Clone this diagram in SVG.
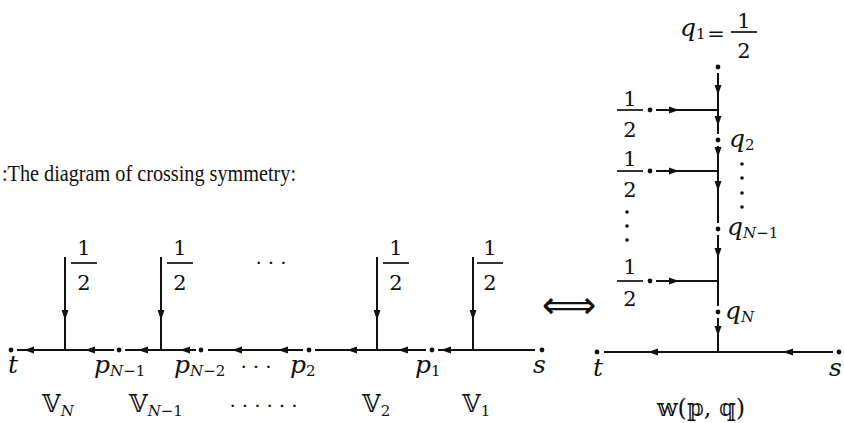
<svg xmlns="http://www.w3.org/2000/svg" xmlns:xlink="http://www.w3.org/1999/xlink" width="844" height="423" viewBox="0 0 844 423">
<style>
.ln{stroke:#111;stroke-width:2;fill:none}
.fb{stroke:#111;stroke-width:1.7}
.dot{fill:#111}
.num{font-family:"DejaVu Serif","Liberation Serif",serif;font-size:21px;fill:#111;text-anchor:middle}
.it{font-family:"DejaVu Serif","Liberation Serif",serif;font-style:italic;font-size:25px;fill:#111}
.sub{font-size:15px}
.up{font-style:normal}
.ds{font-family:"DejaVu Serif","DejaVu Sans",serif;font-size:24px;fill:#111}
.ttl{font-family:"Liberation Serif",serif;font-size:24px;fill:#111}
.ell{font-family:"Liberation Serif",serif;font-size:22px;fill:#111}
</style>
<defs>
<polygon id="ah" points="0,0 -10,-3.5 -10,3.5" fill="#111"/>
</defs>
<rect width="844" height="423" fill="#fff"/>
<text class="ttl" x="2" y="181" textLength="294" lengthAdjust="spacingAndGlyphs">:The diagram of crossing symmetry:</text>

<g id="connectors">
<path class="ln" d="M17,350 H114 M125,350 H196 M208,350 H303 M315,350 H426 M438,350 H535"/>
<path class="ln" d="M65,257 V350 M161,257 V350 M377,257 V350 M473,257 V350"/>
<use xlink:href="#ah" transform="translate(24,350) rotate(180)"/>
<use xlink:href="#ah" transform="translate(85,350) rotate(180)"/>
<use xlink:href="#ah" transform="translate(138,350) rotate(180)"/>
<use xlink:href="#ah" transform="translate(180,350) rotate(180)"/>
<use xlink:href="#ah" transform="translate(232,350) rotate(180)"/>
<use xlink:href="#ah" transform="translate(278,350) rotate(180)"/>
<use xlink:href="#ah" transform="translate(347,350) rotate(180)"/>
<use xlink:href="#ah" transform="translate(398,350) rotate(180)"/>
<use xlink:href="#ah" transform="translate(441,350) rotate(180)"/>
<use xlink:href="#ah" transform="translate(65,320) rotate(90)"/>
<use xlink:href="#ah" transform="translate(161,320) rotate(90)"/>
<use xlink:href="#ah" transform="translate(377,320) rotate(90)"/>
<use xlink:href="#ah" transform="translate(473,320) rotate(90)"/>

<path class="ln" d="M604,352 H833"/>
<use xlink:href="#ah" transform="translate(648,352) rotate(180)"/>
<use xlink:href="#ah" transform="translate(783,352) rotate(180)"/>
<path class="ln" d="M718,73 V134 M718,146 V223 M718,235 V306 M718,318 V352"/>
<use xlink:href="#ah" transform="translate(718,95) rotate(90)"/>
<use xlink:href="#ah" transform="translate(718,126) rotate(90)"/>
<use xlink:href="#ah" transform="translate(718,157) rotate(90)"/>
<use xlink:href="#ah" transform="translate(718,191) rotate(90)"/>
<use xlink:href="#ah" transform="translate(718,258) rotate(90)"/>
<use xlink:href="#ah" transform="translate(718,336) rotate(90)"/>
<path class="ln" d="M656,110 H718 M656,171 H718 M656,281 H718"/>
<use xlink:href="#ah" transform="translate(679,110)"/>
<use xlink:href="#ah" transform="translate(679,171)"/>
<use xlink:href="#ah" transform="translate(679,281)"/>
</g>

<g id="t-left"><circle class="dot" cx="11" cy="350" r="2.4"/><text class="it" x="8" y="373">t</text></g>
<g id="pN1"><circle class="dot" cx="119" cy="350" r="2.4"/><text class="it" x="94" y="373">p<tspan class="sub" dy="3">N<tspan class="up">−1</tspan></tspan></text></g>
<g id="pN2"><circle class="dot" cx="201" cy="350" r="2.4"/><text class="it" x="174" y="373">p<tspan class="sub" dy="3">N<tspan class="up">−2</tspan></tspan></text></g>
<g id="p2"><circle class="dot" cx="309" cy="350" r="2.4"/><text class="it" x="290" y="373">p<tspan class="sub up" dy="3">2</tspan></text></g>
<g id="p1"><circle class="dot" cx="432" cy="350" r="2.4"/><text class="it" x="415" y="373">p<tspan class="sub up" dy="3">1</tspan></text></g>
<g id="s-left"><circle class="dot" cx="542" cy="350" r="2.4"/><text class="it" x="533" y="373">s</text></g>
<text class="ell" x="240" y="374" letter-spacing="5">···</text>

<g id="half-1"><text class="num" x="84" y="255">1</text><line class="fb" x1="71" y1="263" x2="97" y2="263"/><text class="num" x="84" y="290">2</text></g>
<g id="half-2"><text class="num" x="180" y="255">1</text><line class="fb" x1="167" y1="263" x2="193" y2="263"/><text class="num" x="180" y="290">2</text></g>
<g id="half-3"><text class="num" x="396" y="255">1</text><line class="fb" x1="383" y1="263" x2="409" y2="263"/><text class="num" x="396" y="290">2</text></g>
<g id="half-4"><text class="num" x="490" y="255">1</text><line class="fb" x1="477" y1="263" x2="503" y2="263"/><text class="num" x="490" y="290">2</text></g>
<text class="ell" x="255" y="270" letter-spacing="5">···</text>

<g id="vertex-labels">
<text class="ds" x="42" y="412">𝕍<tspan class="it sub" dy="4">N</tspan></text>
<text class="ds" x="129" y="412">𝕍<tspan class="it sub" dy="4">N<tspan class="up">−1</tspan></tspan></text>
<text class="ell" x="229" y="413" letter-spacing="5">······</text>
<text class="ds" x="362" y="412">𝕍<tspan class="sub" dy="4">2</tspan></text>
<text class="ds" x="462" y="412">𝕍<tspan class="sub" dy="4">1</tspan></text>
</g>

<text x="569" y="318" font-family="DejaVu Sans,sans-serif" font-size="38" text-anchor="middle" fill="#111">⟺</text>

<g id="t-right"><circle class="dot" cx="597" cy="352" r="2.4"/><text class="it" x="593" y="376">t</text></g>
<g id="s-right"><circle class="dot" cx="839" cy="352" r="2.4"/><text class="it" x="829" y="376">s</text></g>
<g id="q1"><circle class="dot" cx="718" cy="67" r="2.4"/>
<text class="it" x="680" y="36">q<tspan class="sub up" dy="3">1</tspan></text>
<text class="num" x="716" y="41" font-size="28">=</text>
<text class="num" x="744" y="28" font-size="23">1</text><line class="fb" x1="731" y1="32" x2="757" y2="32"/><text class="num" x="744" y="58" font-size="23">2</text></g>
<g id="q2"><circle class="dot" cx="718" cy="140" r="2.4"/><text class="it" x="729" y="147">q<tspan class="sub up" dy="3">2</tspan></text></g>
<g id="qN1"><circle class="dot" cx="718" cy="229" r="2.4"/><text class="it" x="727" y="235">q<tspan class="sub" dy="3">N<tspan class="up">−1</tspan></tspan></text></g>
<g id="qN"><circle class="dot" cx="718" cy="312" r="2.4"/><text class="it" x="725" y="319">q<tspan class="sub" dy="3">N</tspan></text></g>
<g id="vdots-right"><circle class="dot" cx="742" cy="164" r="1.8"/><circle class="dot" cx="742" cy="178" r="1.8"/><circle class="dot" cx="742" cy="193" r="1.8"/><circle class="dot" cx="742" cy="207" r="1.8"/></g>

<g id="in-1"><circle class="dot" cx="650" cy="110" r="2.4"/><text class="num" x="630" y="106">1</text><line class="fb" x1="617" y1="110" x2="643" y2="110"/><text class="num" x="630" y="137">2</text></g>
<g id="in-2"><circle class="dot" cx="650" cy="171" r="2.4"/><text class="num" x="630" y="166">1</text><line class="fb" x1="617" y1="171" x2="643" y2="171"/><text class="num" x="630" y="197">2</text></g>
<g id="vdots-left"><circle class="dot" cx="627" cy="212" r="1.8"/><circle class="dot" cx="627" cy="226" r="1.8"/><circle class="dot" cx="627" cy="240" r="1.8"/></g>
<g id="in-3"><circle class="dot" cx="650" cy="281" r="2.4"/><text class="num" x="630" y="274">1</text><line class="fb" x1="617" y1="281" x2="643" y2="281"/><text class="num" x="630" y="306">2</text></g>

<text class="ds" x="701" y="416" text-anchor="middle">𝕨(𝕡, 𝕢)</text>
</svg>
